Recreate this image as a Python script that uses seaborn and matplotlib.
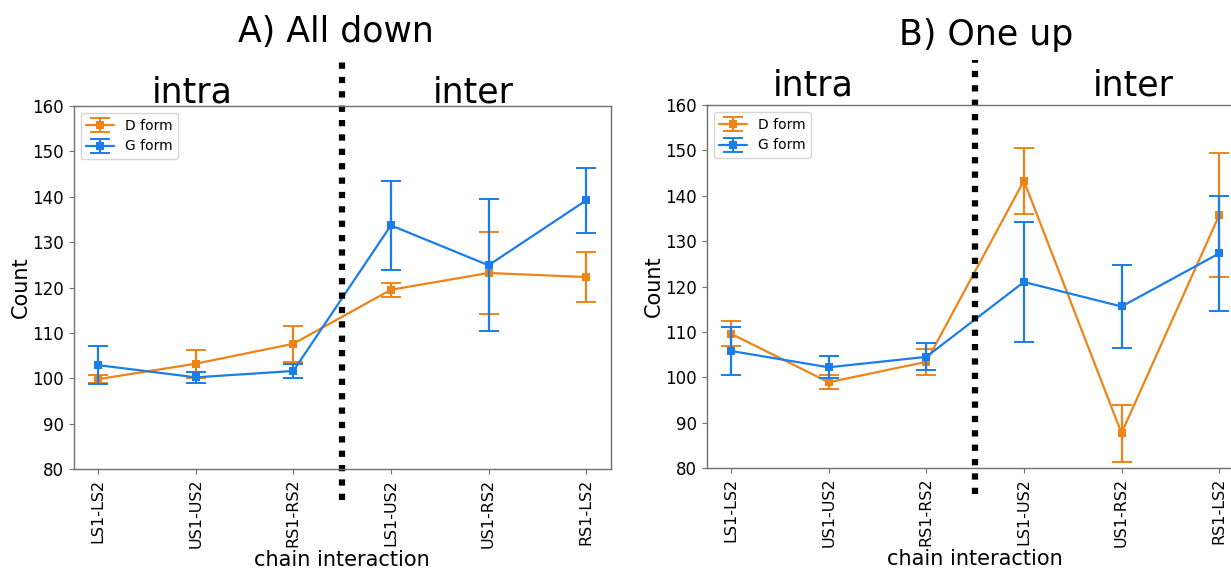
import numpy as np
import pandas as pd
import matplotlib
matplotlib.use("Agg")
import matplotlib.pyplot as plt
import seaborn as sns

categories = ["LS1-LS2", "US1-US2", "RS1-RS2", "LS1-US2", "US1-RS2", "RS1-LS2"]
series_names = ["D form", "G form"]

# Panel A) All down
a_d_mean = [99.8, 103.2, 107.6, 119.5, 123.2, 122.3]
a_d_err = [0.9, 3.1, 4.0, 1.5, 9.1, 5.6]
a_g_mean = [102.9, 100.2, 101.6, 133.7, 124.9, 139.2]
a_g_err = [4.25, 1.2, 1.65, 9.75, 14.5, 7.15]

# Panel B) One up
b_d_mean = [109.6, 98.9, 103.4, 143.3, 87.7, 135.7]
b_d_err = [2.8, 1.5, 2.9, 7.3, 6.3, 13.65]
b_g_mean = [105.8, 102.2, 104.5, 121.0, 115.6, 127.3]
b_g_err = [5.3, 2.4, 3.0, 13.2, 9.25, 12.7]

panel_titles = ["A) All down", "B) One up"]
region_labels = ["intra", "inter"]
y_ticks = [80, 90, 100, 110, 120, 130, 140, 150, 160]

colors = {"D form": "#EF8416", "G form": "#1A7DEA"}

sns.set_style("white", {"axes.edgecolor": "#707070", "xtick.color": "#707070",
                        "ytick.color": "#707070", "xtick.bottom": True,
                        "ytick.left": True})
plt.rcParams["font.family"] = ["DejaVu Sans"]
plt.rcParams["text.color"] = "black"
plt.rcParams["axes.labelcolor"] = "black"

fig = plt.figure(figsize=(12.31, 5.73), dpi=100)
ax_a = fig.add_axes([0.0598, 0.1815, 0.4362, 0.6335])
ax_b = fig.add_axes([0.5740, 0.1832, 0.4362, 0.6335])

panels = [
    (ax_a, {"D form": (a_d_mean, a_d_err), "G form": (a_g_mean, a_g_err)}),
    (ax_b, {"D form": (b_d_mean, b_d_err), "G form": (b_g_mean, b_g_err)}),
]

x_pos = np.arange(len(categories))

for ax, data in panels:
    handles = []
    for name in series_names:
        mean, err = data[name]
        df = pd.DataFrame({"x": x_pos, "Count": mean})
        sns.lineplot(data=df, x="x", y="Count", ax=ax, color=colors[name],
                     marker="s", markersize=5.5, markeredgewidth=0,
                     linewidth=1.6, legend=False)
        line = ax.get_lines()[-1]
        eb = ax.errorbar(x_pos, mean, yerr=err, fmt="none", ecolor=colors[name],
                         elinewidth=1.6, capsize=7, capthick=1.4)
        handles.append((eb, line))
    ax.set_ylim(80, 160)
    ax.set_xlim(-0.25, 5.25)
    ax.set_yticks(y_ticks)
    ax.set_xticks(x_pos)
    ax.set_xticklabels(categories, rotation=90, fontsize=11.5, color="black")
    ax.tick_params(axis="y", labelsize=12, labelcolor="black", length=3.5, width=0.8)
    ax.tick_params(axis="x", length=3.5, width=0.8)
    ax.set_xlabel("chain interaction", fontsize=15, color="black", labelpad=1)
    ax.set_ylabel("Count", fontsize=15, color="black", labelpad=1)
    for sp in ax.spines.values():
        sp.set_linewidth(1.0)
    leg = ax.legend(handles, series_names, loc="upper left", fontsize=10,
                    frameon=True, framealpha=0.8, edgecolor="#cccccc",
                    handlelength=2.0)
    for t in leg.get_texts():
        t.set_color("black")

# dotted separator lines
ax_a.axvline(2.5, ymin=-0.085, ymax=1.135, color="black", linewidth=4.5,
             linestyle=(0, (1, 1.3)), clip_on=False, dash_capstyle="butt")
ax_b.axvline(2.5, ymin=-0.072, ymax=1.124, color="black", linewidth=4.5,
             linestyle=(0, (1, 1.3)), clip_on=False, dash_capstyle="butt")

# region labels
ax_a.text(0.96, 160.7, region_labels[0], fontsize=25, ha="center", va="baseline")
ax_a.text(3.84, 160.7, region_labels[1], fontsize=25, ha="center", va="baseline")
ax_b.text(0.84, 162.2, region_labels[0], fontsize=25, ha="center", va="baseline")
ax_b.text(4.12, 162.2, region_labels[1], fontsize=25, ha="center", va="baseline")

# panel titles
fig.text(336 / 1231, 1 - 42 / 573, panel_titles[0], fontsize=25, ha="center", va="baseline")
fig.text(986 / 1231, 1 - 45 / 573, panel_titles[1], fontsize=25, ha="center", va="baseline")

fig.savefig("out.png", dpi=100)
